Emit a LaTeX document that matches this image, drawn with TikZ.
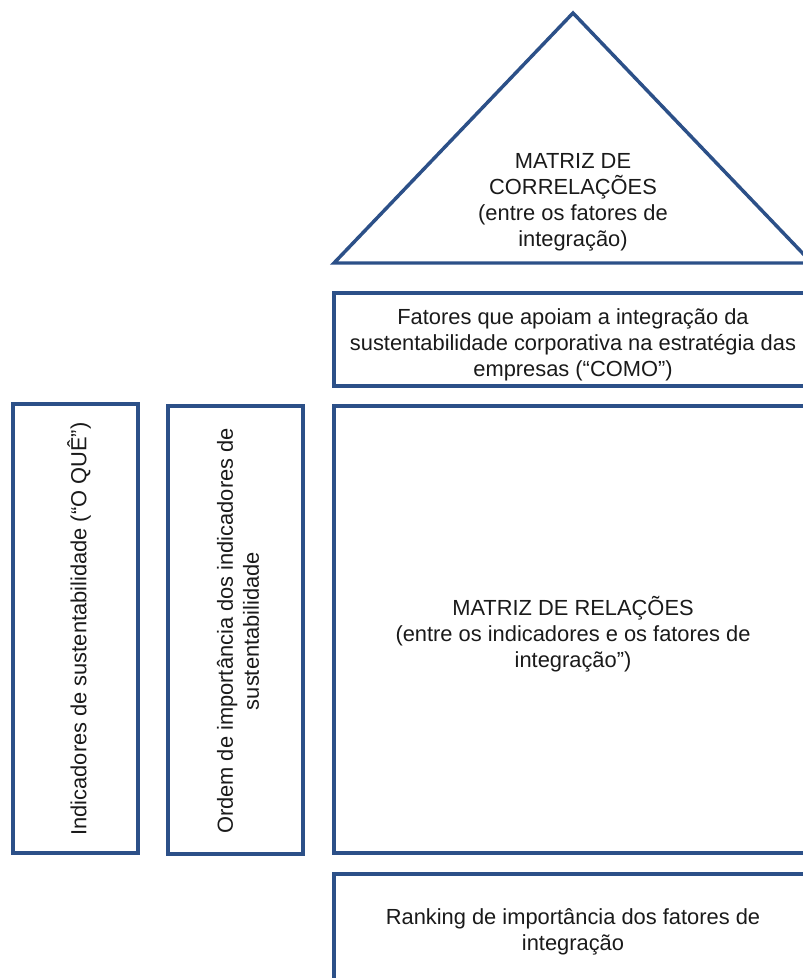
\documentclass[tikz,border=0pt]{standalone}
\usepackage{fontspec}
\setmainfont{Liberation Sans}
\definecolor{lineblue}{HTML}{2C5088}
\definecolor{txtgray}{HTML}{1A1A1A}
\begin{document}
\begin{tikzpicture}[x=0.75pt,y=-0.75pt,
  frame/.style={draw=lineblue, line width=2.6pt, line join=miter},
  txt/.style={align=center, text=txtgray, inner sep=0pt, font=\fontsize{16.4}{19.5}\selectfont}]
\useasboundingbox (0,0) rectangle (803,978);
\clip (0,0) rectangle (803,978);
% triangle
\draw[frame] (573,13) -- (812,263) -- (334,263) -- cycle;
\node[txt] (corr) at (573,202) {MATRIZ DE\\CORRELAÇÕES\\(entre os fatores de\\integração)};
% como box
\draw[frame] (334,293) rectangle (815,386);
\node[txt] (como) at (573,345) {Fatores que apoiam a integração da\\sustentabilidade corporativa na estratégia das\\empresas (“COMO”)};
% relations matrix
\draw[frame] (334,406) rectangle (815,853);
\node[txt] (rel) at (573,634) {MATRIZ DE RELAÇÕES\\(entre os indicadores e os fatores de\\integração”)};
% ranking
\draw[frame] (334,874) rectangle (815,1000);
\node[txt] (rank) at (573,932) {Ranking de importância dos fatores de\\integração};
% left boxes
\draw[frame] (13,404) rectangle (138,853);
\node[txt, rotate=90] (oque) at (79,629) {Indicadores de sustentabilidade (“O QUÊ”)};
\draw[frame] (168,406) rectangle (303,854);
\node[txt, rotate=90] (ordem) at (238,631) {Ordem de importância dos indicadores de\\sustentabilidade};
\end{tikzpicture}
\end{document}
